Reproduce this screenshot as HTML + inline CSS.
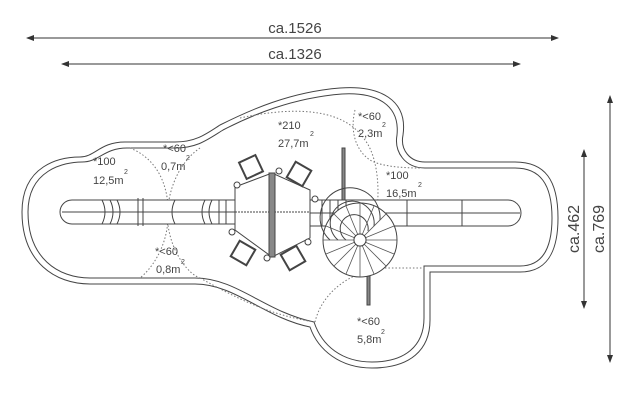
<!DOCTYPE html>
<html><head><style>
html,body{margin:0;padding:0;background:#fff;}
svg{display:block;}
text{font-family:"Liberation Sans",sans-serif;fill:#444;}
</style></head><body>
<svg width="638" height="402" viewBox="0 0 638 402" xmlns="http://www.w3.org/2000/svg">
<defs>
<marker id="a" markerWidth="8" markerHeight="6" refX="7" refY="3" orient="auto-start-reverse"><path d="M0,0 L8,3 L0,6 z" fill="#333"/></marker>
</defs>
<!-- dimension lines -->
<g stroke="#333" stroke-width="1">
<line x1="27" y1="38" x2="558" y2="38" marker-start="url(#a)" marker-end="url(#a)"/>
<line x1="62" y1="64" x2="520" y2="64" marker-start="url(#a)" marker-end="url(#a)"/>
<line x1="610" y1="96" x2="610" y2="362" marker-start="url(#a)" marker-end="url(#a)"/>
<line x1="584" y1="150" x2="584" y2="308" marker-start="url(#a)" marker-end="url(#a)"/>
</g>
<text x="295" y="33" font-size="15" text-anchor="middle">ca.1526</text>
<text x="295" y="59" font-size="15" text-anchor="middle">ca.1326</text>
<text transform="translate(604,229) rotate(-90)" font-size="16" text-anchor="middle">ca.769</text>
<text transform="translate(579,229) rotate(-90)" font-size="16" text-anchor="middle">ca.462</text>

<!-- boundary -->
<g fill="none" stroke="#444" stroke-width="1">
<path d="M80,157 C60,157 22,165 22,212 C22,262 55,284 90,284 L195,284 C235,284 265,318 310,327 C318,350 340,368 372,368 C410,368 430,350 430,320 L430,272 L520,272 C545,272 558,255 558,218 C558,180 545,162 515,162 L425,162 C410,162 400,150 403,135 C408,100 380,85 340,88 C290,92 250,110 220,125 C205,135 195,142 175,142 L125,142 C100,142 95,157 80,157 Z"/>
<path d="M82,162 C64,162 28,170 28,212 C28,258 58,278 90,278 L195,278 C237,278 265,312 314,322 C322,346 342,362 372,362 C405,362 424,346 424,318 L424,266 L520,266 C540,266 552,252 552,218 C552,184 540,168 515,168 L425,168 C405,168 394,152 397,135 C400,105 377,92 342,94 C292,98 252,115 223,130 C207,140 197,148 175,148 L127,148 C104,148 99,162 82,162 Z"/>
</g>
<!-- dotted zones -->
<g fill="none" stroke="#777" stroke-width="1" stroke-dasharray="1.5,2">
<path d="M130,148 C160,160 170,190 168,220 C166,250 150,270 140,278"/>
<path d="M200,148 C175,165 165,200 168,225 C172,255 190,275 200,278"/>
<path d="M240,118 C300,105 345,110 365,140 C380,160 380,200 375,220"/>
<path d="M355,110 C350,130 355,150 370,160 C380,166 400,168 420,168"/>
<path d="M315,322 C320,300 340,275 380,268 L424,268"/>
<path d="M200,278 C240,300 270,315 315,322"/>
</g>
<!-- slides -->
<g fill="#fff" stroke="#444" stroke-width="1">
<path d="M72,200 L235,200 L235,224 L72,224 A12,12 0 0 1 72,200 Z"/>
<line x1="62" y1="212" x2="235" y2="212"/>
<path d="M102,200 q6,12 0,24 M110,200 q6,12 0,24 M117,200 q6,12 0,24 M138,198 l0,28 M143,198 l0,28 M175,200 q-6,12 0,24 M205,200 q-6,12 0,24 M212,200 q-6,12 0,24 M219,200 l0,24 M226,200 l0,24" fill="none"/>
<path d="M310,200 L508,200 A12,12 0 0 1 508,226 L310,226 Z"/>
<line x1="310" y1="213" x2="520" y2="213"/>
<path d="M407,200 l0,26 M462,200 l0,26 M322,200 l0,26 M330,200 l0,26 M338,200 l0,26 M346,200 l0,26" fill="none"/>
<!-- hexagon -->
<path d="M235,187 L272,173 L310,190 L310,238 L272,257 L235,230 Z"/>
<line x1="235" y1="212" x2="310" y2="212" stroke-dasharray="2,1"/>
<rect x="269" y="173" width="6" height="84" fill="#888"/>
<!-- squares -->
<rect x="242" y="158" width="18" height="18" transform="rotate(-25 251 167)" stroke-width="2"/>
<rect x="290" y="165" width="18" height="18" transform="rotate(30 299 174)" stroke-width="2"/>
<rect x="234" y="244" width="18" height="18" transform="rotate(30 243 253)" stroke-width="2"/>
<rect x="284" y="249" width="18" height="18" transform="rotate(-30 293 258)" stroke-width="2"/>
<circle cx="237" cy="185" r="3"/><circle cx="279" cy="171" r="3"/><circle cx="315" cy="199" r="3"/>
<circle cx="232" cy="232" r="3"/><circle cx="267" cy="258" r="3"/><circle cx="308" cy="242" r="3"/>
<!-- poles -->
<rect x="342" y="148" width="3" height="52" fill="#888"/>
<rect x="367" y="275" width="3" height="30" fill="#888"/>
<!-- spiral -->
<circle cx="360" cy="240" r="37"/>
<path d="M360,240 m-30,0 a30,30 0 1 1 50,-20 M360,240 m-22,0 a22,22 0 1 1 36,-14 M360,240 m-14,0 a14,14 0 1 1 22,-9" fill="none"/>
<circle cx="360" cy="240" r="6"/>
<g stroke="#555" stroke-width="0.8">
<line x1="360" y1="240" x2="397" y2="240"/><line x1="360" y1="240" x2="323" y2="240"/>
<line x1="360" y1="240" x2="360" y2="203"/><line x1="360" y1="240" x2="360" y2="277"/>
<line x1="360" y1="240" x2="386" y2="214"/><line x1="360" y1="240" x2="334" y2="266"/>
<line x1="360" y1="240" x2="334" y2="214"/><line x1="360" y1="240" x2="386" y2="266"/>
<line x1="360" y1="240" x2="394" y2="226"/><line x1="360" y1="240" x2="326" y2="254"/>
<line x1="360" y1="240" x2="346" y2="206"/><line x1="360" y1="240" x2="374" y2="274"/>
<line x1="360" y1="240" x2="374" y2="206"/><line x1="360" y1="240" x2="346" y2="274"/>
<line x1="360" y1="240" x2="394" y2="254"/><line x1="360" y1="240" x2="326" y2="226"/>
</g>
<circle cx="360" cy="240" r="6"/>
</g>
<!-- labels -->
<g font-size="11">
<text x="93" y="165">*100</text><text x="93" y="184">12,5m</text><text x="124" y="174" font-size="7">2</text>
<text x="163" y="152">*&lt;60</text><text x="161" y="170">0,7m</text><text x="186" y="160" font-size="7">2</text>
<text x="278" y="129">*210</text><text x="278" y="147">27,7m</text><text x="310" y="136" font-size="7">2</text>
<text x="358" y="120">*&lt;60</text><text x="358" y="137">2,3m</text><text x="382" y="127" font-size="7">2</text>
<text x="386" y="179">*100</text><text x="386" y="197">16,5m</text><text x="418" y="187" font-size="7">2</text>
<text x="155" y="255">*&lt;60</text><text x="156" y="273">0,8m</text><text x="181" y="264" font-size="7">2</text>
<text x="357" y="325">*&lt;60</text><text x="357" y="343">5,8m</text><text x="381" y="334" font-size="7">2</text>
</g>
</svg>
</body></html>
